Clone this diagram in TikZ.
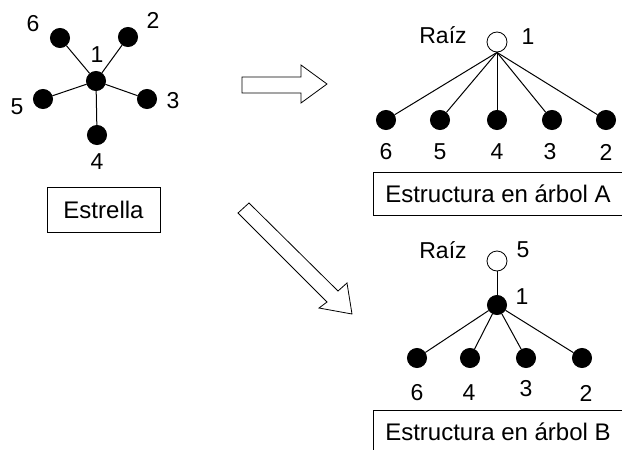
\documentclass[tikz,border=0pt]{standalone}
\usepackage{fontspec}
\setmainfont{Liberation Sans}
\usepackage{xcolor}
\usetikzlibrary{positioning}

\begin{document}
\begin{tikzpicture}[
      x=1pt, y=-1pt,
      line width=1pt,
      dot/.style={circle, fill=black, draw=black, inner sep=0pt, minimum size=19pt},
      rootdot/.style={circle, fill=white, draw=black, line width=0.8pt, inner sep=0pt, minimum size=20pt},
      num/.style={inner sep=0pt, font=\fontsize{23}{26}\selectfont},
      caption/.style={draw, line width=0.8pt, inner sep=0pt, font=\fontsize{24}{27}\selectfont}
    ]
    \useasboundingbox (0,0) rectangle (622,450);

    % estrella
    \node[dot] (s1) at (96,81) {};
    \node[dot] (s6) at (60,38) {};
    \node[dot] (s2) at (128,37) {};
    \node[dot] (s5) at (43,99) {};
    \node[dot] (s3) at (147,99) {};
    \node[dot] (s4) at (97,135) {};
    \node[num] (ls1) at (97,55) {1};
    \node[num] (ls6) at (33,24) {6};
    \node[num] (ls2) at (153,20) {2};
    \node[num] (ls5) at (17,107) {5};
    \node[num] (ls3) at (173,101) {3};
    \node[num] (ls4) at (97,162) {4};
    \draw (s1) -- (s6);
    \draw (s1) -- (s2);
    \draw (s1) -- (s5);
    \draw (s1) -- (s3);
    \draw (s1) -- (s4);
    \node[caption, minimum width=113pt, minimum height=45pt] (estrella) at (103.5,209.5) {Estrella};

    % flechas
    \draw[line width=0.8pt] (242,77) -- (301,77) -- (301,65) -- (327,84) -- (301,103) -- (301,93) -- (242,93) -- cycle;
    \draw[line width=0.8pt] (249,203) -- (338,291) -- (347,283) -- (352,314) -- (319,308) -- (327,302) -- (238,213) -- cycle;

    % arbol A
    \node[rootdot] (a1) at (497,42) {};
    \node[num] (raizA) at (443,35) {Raíz};
    \node[num] (la1) at (528,37) {1};
    \node[dot] (a6) at (386,120) {};
    \node[dot] (a5) at (440,120) {};
    \node[dot] (a4) at (497,120) {};
    \node[dot] (a3) at (552,120) {};
    \node[dot] (a2) at (606,120) {};
    \node[num] (la6) at (386,152) {6};
    \node[num] (la5) at (440,152) {5};
    \node[num] (la4) at (497,152) {4};
    \node[num] (la3) at (550,152) {3};
    \node[num] (la2) at (606,152) {2};
    \draw (a1.south) -- (a6);
    \draw (a1.south) -- (a5);
    \draw (a1.south) -- (a4);
    \draw (a1.south) -- (a3);
    \draw (a1.south) -- (a2);
    \node[caption, minimum width=250pt, minimum height=43pt] (arbolA) at (498,193.5) {Estructura en árbol A};

    % arbol B
    \node[rootdot] (b5) at (497,261) {};
    \node[num] (raizB) at (443,250) {Raíz};
    \node[num] (lb5) at (523,250) {5};
    \node[dot] (b1) at (497,305) {};
    \node[num] (lb1) at (522,297) {1};
    \node[dot] (b6) at (417,358) {};
    \node[dot] (b4) at (470,358) {};
    \node[dot] (b3) at (526,358) {};
    \node[dot] (b2) at (582,358) {};
    \node[num] (lb6) at (417,393) {6};
    \node[num] (lb4) at (469,393) {4};
    \node[num] (lb3) at (526,389) {3};
    \node[num] (lb2) at (586,393) {2};
    \draw (b5) -- (b1);
    \draw (b1) -- (b6);
    \draw (b1) -- (b4);
    \draw (b1) -- (b3);
    \draw (b1) -- (b2);
    \node[caption, minimum width=250pt, minimum height=44pt] (arbolB) at (498,432) {Estructura en árbol B};
  \end{tikzpicture}
\end{document}
